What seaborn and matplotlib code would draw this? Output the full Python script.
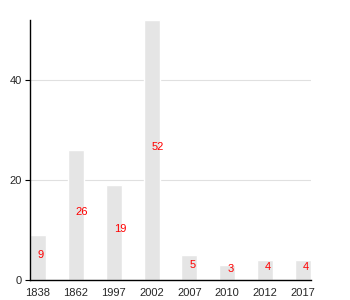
import matplotlib
matplotlib.use("Agg")
import matplotlib.pyplot as plt
import seaborn as sns
import pandas as pd

years = ["1838", "1862", "1997", "2002", "2007", "2010", "2012", "2017"]
values = [9, 26, 19, 52, 5, 3, 4, 4]

sns.set_style("white")
plt.rcParams['font.family'] = ['Liberation Sans', 'DejaVu Sans']

df = pd.DataFrame({"year": years, "value": values})
fig = plt.figure(figsize=(3.5, 3.0), dpi=100)
ax = fig.add_axes([30/350, 20/300, 281/350, 260/300])
sns.barplot(data=df, x="year", y="value", color="#e5e5e5", width=0.42,
            saturation=1, ax=ax, zorder=2)
for i, v in enumerate(values):
    ax.text(i, v / 2, str(v), color="red", fontsize=8, ha="left", va="baseline", zorder=3)

ax.set_xlim(-0.21, 7.21)
ax.set_ylim(0, 52)
ax.set_yticks([0, 20, 40])
ax.yaxis.grid(True, color="#e0e0e0", linewidth=0.8, zorder=0)
ax.set_axisbelow(True)
ax.set_xlabel("")
ax.set_ylabel("")
for s in ["top", "right"]:
    ax.spines[s].set_visible(False)
for s in ["left", "bottom"]:
    ax.spines[s].set_color("black")
    ax.spines[s].set_linewidth(1)
ax.tick_params(axis="y", left=True, length=3.6, width=0.8, labelsize=8, pad=2.5, color="black")
ax.tick_params(axis="x", bottom=False, labelsize=8, pad=2)
fig.savefig("out.png", dpi=100)
